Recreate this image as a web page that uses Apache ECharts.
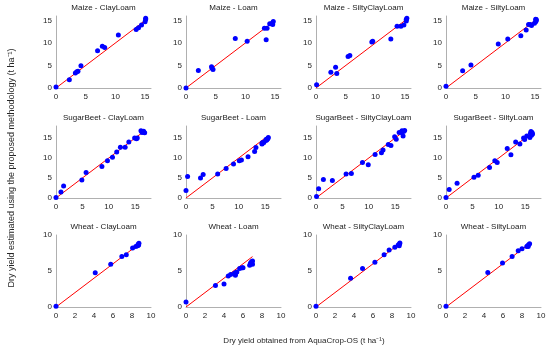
<!DOCTYPE html>
<html>
<head>
<meta charset="utf-8">
<script src="https://cdn.jsdelivr.net/npm/echarts@6/dist/echarts.min.js"></script>
<style>html,body{margin:0;padding:0;background:#fff}#c{width:550px;height:348px}</style>
</head>
<body>
<div id="c"></div>
<script>
const crops = ['Maize', 'SugarBeet', 'Wheat'];
const soils = ['ClayLoam', 'Loam', 'SiltyClayLoam', 'SiltyLoam'];
const axisMax = [16, 18, 10];
const xTickStep = [5, 5, 2];
const yTickStep = [5, 5, 5];
const xAxisTitle = 'Dry yield obtained from AquaCrop-OS (t ha\u207B\u00B9)';
const yAxisTitle = 'Dry yield estimated using the proposed methodology (t ha\u207B\u00B9)';

// [AquaCrop-OS yield, estimated yield]
const maizeClayLoam = [[0,0.2],[2.25,1.85],[3.26,3.33],[3.5,3.6],[3.7,3.7],[4.2,4.96],[7.0,8.3],[7.8,9.26],[8.2,9.0],[10.5,11.8],[13.5,13.0],[13.9,13.4],[14.4,14.0],[15.0,14.7],[15.1,15.2],[15.1,15.5]];
const maizeLoam = [[0,0],[2.08,3.9],[4.3,4.7],[4.4,4.4],[4.55,4.1],[8.3,11.0],[10.3,10.4],[13.2,13.3],[13.65,13.3],[13.5,10.7],[14.1,14.3],[14.5,14.4],[14.7,14.8],[14.6,14.1]];
const maizeSiltyClayLoam = [[0.1,0.7],[2.5,3.5],[3.3,4.6],[3.5,3.2],[5.4,7.0],[5.7,7.2],[9.4,10.2],[9.55,10.4],[12.6,10.9],[13.65,13.7],[14.3,13.7],[14.8,14.0],[15.2,15.2],[15.3,15.5],[15.2,14.9]];
const maizeSiltyLoam = [[0,0.4],[2.8,3.85],[4.2,5.1],[8.8,9.8],[10.4,10.9],[12.6,11.6],[13.5,12.9],[13.9,14.1],[14.2,14.1],[14.4,13.9],[14.9,14.4],[15.1,14.7],[15.2,15.2],[15.2,15.0],[15.1,15.3]];
const sugarBeetClayLoam = [[0,0.1],[0.94,1.5],[1.44,3.0],[4.9,4.5],[5.7,6.4],[8.7,7.85],[9.75,9.3],[10.7,10.2],[11.5,11.5],[12.2,12.7],[13.1,12.7],[13.8,14.0],[14.9,15.0],[15.25,14.8],[15.4,15.0],[16.1,16.8],[16.3,16.4],[16.6,16.5],[16.8,16.3],[16.6,16.7]];
const sugarBeetLoam = [[0,1.9],[0.3,5.4],[2.75,5.0],[3.25,5.9],[6.0,6.0],[7.6,7.35],[9.0,8.5],[10.1,9.3],[10.5,9.5],[11.75,10.3],[13.0,11.6],[13.25,12.6],[14.4,13.6],[14.5,13.9],[14.75,13.9],[14.4,13.5],[15.1,14.4],[15.3,14.5],[15.5,14.8],[15.6,15.1],[15.2,14.7]];
const sugarBeetSiltyClayLoam = [[0.1,0.4],[0.5,2.3],[1.4,4.6],[3.1,4.4],[5.7,6.0],[6.7,6.1],[8.8,8.9],[9.9,8.3],[11.2,10.9],[12.4,11.3],[12.7,12.0],[13.7,13.4],[14.2,13.1],[14.9,15.3],[15.2,14.7],[15.75,16.4],[16.2,16.4],[16.5,15.5],[16.6,16.6],[16.8,16.9],[16.3,16.8]];
const sugarBeetSiltyLoam = [[0,0.1],[0.6,2.1],[2.1,3.7],[5.3,5.2],[6.1,5.7],[8.25,7.6],[9.25,9.3],[9.7,8.9],[11.6,12.4],[12.3,10.8],[13.2,14.0],[14.0,13.5],[14.7,15.0],[14.9,14.6],[15.3,15.5],[15.9,15.1],[16.2,15.7],[16.1,16.6],[16.3,16.4],[16.4,16.0],[16.0,16.2]];
const wheatClayLoam = [[0,0.1],[4.13,4.75],[5.76,5.95],[6.93,7.0],[7.4,7.25],[8.06,8.2],[8.4,8.4],[8.6,8.5],[8.65,8.7],[8.73,8.85],[8.7,8.6]];
const wheatLoam = [[0,0.7],[3.1,3.0],[4.0,3.2],[4.45,4.3],[4.7,4.5],[5.1,4.7],[5.2,4.4],[5.15,4.6],[5.25,4.8],[5.35,4.85],[5.65,5.35],[5.9,5.45],[6.0,5.45],[6.7,5.8],[6.8,6.05],[6.9,6.3],[7.0,6.4],[6.8,6.1],[7.0,5.95]];
const wheatSiltyClayLoam = [[0,0.1],[3.64,4.0],[4.9,5.35],[6.2,6.2],[7.17,7.25],[7.7,7.9],[8.3,8.3],[8.65,8.6],[8.8,8.8],[8.76,8.5],[8.83,8.9]];
const wheatSiltyLoam = [[0,0.1],[4.4,4.8],[5.95,6.1],[6.96,7.0],[7.6,7.8],[8.0,8.1],[8.5,8.4],[8.6,8.5],[8.7,8.65],[8.8,8.8],[8.65,8.4]];

const panels = [
  [maizeClayLoam, maizeLoam, maizeSiltyClayLoam, maizeSiltyLoam],
  [sugarBeetClayLoam, sugarBeetLoam, sugarBeetSiltyClayLoam, sugarBeetSiltyLoam],
  [wheatClayLoam, wheatLoam, wheatSiltyClayLoam, wheatSiltyLoam]
];

const colLeft = [56, 186, 316, 446];
const rowTop = [16, 126, 235];
const gridW = 95, gridH = 72;
const FONT = 'Liberation Sans, Arial, sans-serif';
const txtColor = '#262626';

const grid = [], xAxis = [], yAxis = [], series = [], graphic = [];
let idx = 0;
for (let r = 0; r < 3; r++) {
  for (let c = 0; c < 4; c++) {
    const data = panels[r][c];
    grid.push({left: colLeft[c], top: rowTop[r], width: gridW, height: gridH, containLabel: false});
    const xs = xTickStep[r], ys = yTickStep[r];
    const axisCommon = {
      min: 0, max: axisMax[r],
      axisLine: {show: true, lineStyle: {color: '#b0b0b0', width: 1}},
      axisTick: {show: false},
      splitLine: {show: false},
      gridIndex: idx
    };
    xAxis.push(Object.assign({}, axisCommon, {
      type: 'value', interval: xs,
      axisLabel: {fontSize: 8, color: txtColor, fontFamily: FONT, margin: 5,
        formatter: v => (Math.abs(v / xs - Math.round(v / xs)) < 1e-9 ? String(v) : '')}
    }));
    yAxis.push(Object.assign({}, axisCommon, {
      type: 'value', interval: ys,
      axisLabel: {fontSize: 8, color: txtColor, fontFamily: FONT, margin: 4,
        formatter: v => (Math.abs(v / ys - Math.round(v / ys)) < 1e-9 ? String(v) : '')}
    }));
    let m = 0;
    data.forEach(p => { m = Math.max(m, p[0], p[1]); });
    series.push({
      type: 'line', xAxisIndex: idx, yAxisIndex: idx,
      data: [[0, 0], [m, m]], symbol: 'none', silent: true,
      lineStyle: {color: '#ff0000', width: 1}, z: 2
    });
    series.push({
      type: 'scatter', xAxisIndex: idx, yAxisIndex: idx,
      data: data, symbolSize: 5,
      itemStyle: {color: '#0000ff', opacity: 1}, z: 3
    });
    graphic.push({
      type: 'text',
      x: colLeft[c] + gridW / 2, y: rowTop[r] - 8,
      style: {text: crops[r] + ' - ' + soils[c], fill: '#1a1a1a', font: '8px ' + FONT,
        textAlign: 'center', textVerticalAlign: 'middle'}
    });
    idx++;
  }
}
graphic.push({
  type: 'text', x: 304, y: 341,
  style: {text: xAxisTitle, fill: txtColor, font: '8px ' + FONT, textAlign: 'center', textVerticalAlign: 'middle'}
});
graphic.push({
  type: 'text', x: 12, y: 168, rotation: Math.PI / 2,
  style: {text: yAxisTitle, fill: txtColor, font: '9px ' + FONT, textAlign: 'center', textVerticalAlign: 'middle'}
});

const chart = echarts.init(document.getElementById('c'), null, {renderer: 'canvas'});
chart.setOption({
  animation: false,
  backgroundColor: '#ffffff',
  grid, xAxis, yAxis, series, graphic
});
</script>
</body>
</html>
